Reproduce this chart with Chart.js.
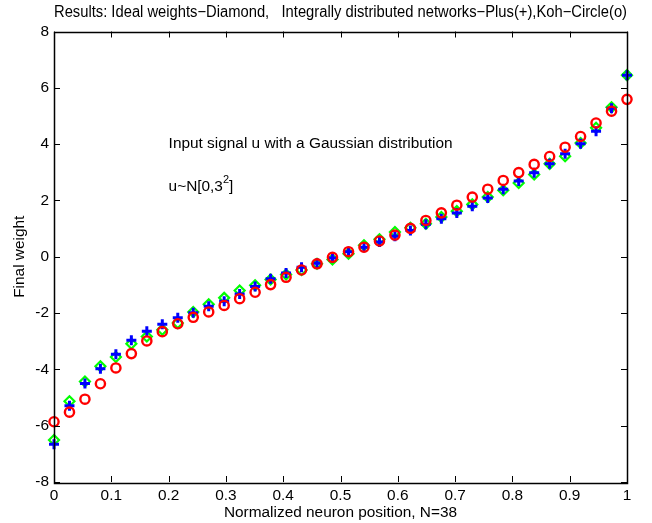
<!DOCTYPE html>
<html>
<head>
<meta charset="utf-8">
<script src="https://cdn.jsdelivr.net/npm/chart.js@4.4.1/dist/chart.umd.min.js"></script>
<style>
  html, body { margin: 0; padding: 0; background: #fff; }
  #wrap { width: 652px; height: 523px; }
</style>
</head>
<body>
<div id="wrap"><canvas id="myChart" width="652" height="523"></canvas></div>
<script>
// normalized neuron positions, N=38
const positions = [0, 0.027, 0.054, 0.081, 0.108, 0.135, 0.162, 0.189, 0.216, 0.243,
  0.270, 0.297, 0.324, 0.351, 0.378, 0.405, 0.432, 0.459, 0.486, 0.514,
  0.541, 0.568, 0.595, 0.622, 0.649, 0.676, 0.703, 0.730, 0.757, 0.784,
  0.811, 0.838, 0.865, 0.892, 0.919, 0.946, 0.973, 1];

// ideal weights (diamond)
const ideal = [-6.51, -5.13, -4.43, -3.89, -3.56, -3.09, -2.83, -2.59, -2.35, -1.96,
  -1.69, -1.46, -1.20, -1.01, -0.81, -0.63, -0.47, -0.25, -0.10, 0.11,
  0.41, 0.62, 0.88, 1.03, 1.17, 1.41, 1.62, 1.86, 2.12, 2.36,
  2.62, 2.92, 3.30, 3.57, 4.04, 4.58, 5.31, 6.45];

// integrally distributed networks (plus)
const integral = [-6.66, -5.29, -4.50, -3.98, -3.46, -2.97, -2.65, -2.40, -2.17, -1.99,
  -1.76, -1.58, -1.32, -1.06, -0.78, -0.58, -0.37, -0.23, -0.04, 0.18,
  0.34, 0.52, 0.73, 0.93, 1.15, 1.35, 1.55, 1.79, 2.09, 2.40,
  2.69, 2.98, 3.30, 3.66, 4.01, 4.46, 5.27, 6.45];

// Kohonen (circle)
const koh = [-5.86, -5.52, -5.06, -4.51, -3.95, -3.44, -2.99, -2.66, -2.38, -2.15,
  -1.96, -1.73, -1.49, -1.26, -0.99, -0.73, -0.47, -0.25, -0.02, 0.18,
  0.34, 0.56, 0.77, 1.01, 1.29, 1.56, 1.83, 2.12, 2.40, 2.71,
  2.99, 3.28, 3.56, 3.89, 4.27, 4.75, 5.17, 5.59];

const xTicks = [0, 0.1, 0.2, 0.3, 0.4, 0.5, 0.6, 0.7, 0.8, 0.9, 1];
const yTicks = [-8, -6, -4, -2, 0, 2, 4, 6, 8];

const FONT = "'Liberation Sans', Arial, Helvetica, sans-serif";
const FSIZE = 15.4;

function pts(ys) {
  return positions.map((x, i) => ({x: x, y: ys[i]}));
}

// matlab style box with inward ticks + text annotations
const matlabBox = {
  id: 'matlabBox',
  afterDatasetsDraw(chart) {
    const ctx = chart.ctx;
    const a = chart.chartArea;
    const xs = chart.scales.x, ys = chart.scales.y;
    ctx.save();
    ctx.strokeStyle = '#000';
    ctx.lineWidth = 1;
    ctx.beginPath();
    xTicks.forEach(v => {
      const px = Math.round(xs.getPixelForValue(v)) + 0.5;
      ctx.moveTo(px, a.bottom); ctx.lineTo(px, a.bottom - 6);
      ctx.moveTo(px, a.top); ctx.lineTo(px, a.top + 6);
    });
    yTicks.forEach(v => {
      const py = Math.round(ys.getPixelForValue(v)) + 0.5;
      ctx.moveTo(a.left, py); ctx.lineTo(a.left + 6, py);
      ctx.moveTo(a.right, py); ctx.lineTo(a.right - 6, py);
    });
    ctx.stroke();
    ctx.lineWidth = 1.5;
    ctx.strokeRect(Math.round(a.left) + 0.5, Math.round(a.top) + 0.5,
      Math.round(a.right - a.left), Math.round(a.bottom - a.top));

    // annotations
    ctx.fillStyle = '#000';
    ctx.textBaseline = 'middle';
    ctx.textAlign = 'left';
    ctx.font = FSIZE + 'px ' + FONT;
    const tx = xs.getPixelForValue(0.2);
    ctx.fillText('Input signal u with a Gaussian distribution', tx, ys.getPixelForValue(4));
    const ty = ys.getPixelForValue(2.5);
    const s1 = 'u~N[0,3';
    ctx.fillText(s1, tx, ty);
    const w = ctx.measureText(s1).width;
    ctx.font = '11px ' + FONT;
    ctx.fillText('2', tx + w, ty - 6);
    const w2 = ctx.measureText('2').width;
    ctx.font = FSIZE + 'px ' + FONT;
    ctx.fillText(']', tx + w + w2, ty);
    ctx.restore();
  }
};

var context = document.getElementById('myChart');
var myChart = new Chart(context, {
  type: 'scatter',
  data: {
    datasets: [{
      label: 'Ideal weights',
      data: pts(ideal),
      pointStyle: 'rectRot',
      pointRadius: 5,
      pointBorderWidth: 2.2,
      borderColor: '#00ff00',
      backgroundColor: 'rgba(0,0,0,0)',
      clip: false,
      order: 3
    }, {
      label: 'Integrally distributed networks',
      data: pts(integral),
      pointStyle: 'cross',
      pointRadius: 5,
      pointBorderWidth: 3,
      borderColor: '#0000ff',
      backgroundColor: '#0000ff',
      clip: false,
      order: 2
    }, {
      label: 'Koh',
      data: pts(koh),
      pointStyle: 'circle',
      pointRadius: 4.6,
      pointBorderWidth: 2.4,
      borderColor: '#ff0000',
      backgroundColor: 'rgba(0,0,0,0)',
      clip: false,
      order: 1
    }]
  },
  options: {
    responsive: false,
    animation: false,
    layout: { padding: { left: 0, right: 25, top: 0, bottom: 0 } },
    plugins: {
      legend: { display: false },
      tooltip: { enabled: false },
      title: {
        display: true,
        fullSize: false,
        text: 'Results: Ideal weights\u2212Diamond,   Integrally distributed networks\u2212Plus(+),Koh\u2212Circle(o)',
        color: '#000',
        font: { family: FONT, size: 16, weight: 'normal' },
        padding: { top: 3, bottom: 9.3 }
      }
    },
    scales: {
      x: {
        type: 'linear',
        min: 0,
        max: 1,
        afterFit: s => { s.height = 41; },
        afterBuildTicks: s => { s.ticks = xTicks.map(v => ({value: v})); },
        grid: { display: false, drawTicks: false },
        border: { display: false },
        ticks: {
          color: '#000',
          padding: 5,
          maxRotation: 0,
          font: { family: FONT, size: FSIZE },
          callback: v => String(v)
        },
        title: {
          display: true,
          text: 'Normalized neuron position, N=38',
          color: '#000',
          font: { family: FONT, size: FSIZE },
          padding: { top: 0, bottom: 1.5 }
        }
      },
      y: {
        type: 'linear',
        min: -8,
        max: 8,
        afterFit: s => { s.width = 54; },
        afterBuildTicks: s => { s.ticks = yTicks.map(v => ({value: v})); },
        grid: { display: false, drawTicks: false },
        border: { display: false },
        ticks: {
          color: '#000',
          padding: 5,
          font: { family: FONT, size: FSIZE },
          callback: v => String(v)
        },
        title: {
          display: true,
          text: 'Final weight',
          color: '#000',
          font: { family: FONT, size: FSIZE },
          padding: { top: 11, bottom: 0 }
        }
      }
    }
  },
  plugins: [matlabBox]
});
</script>
</body>
</html>
